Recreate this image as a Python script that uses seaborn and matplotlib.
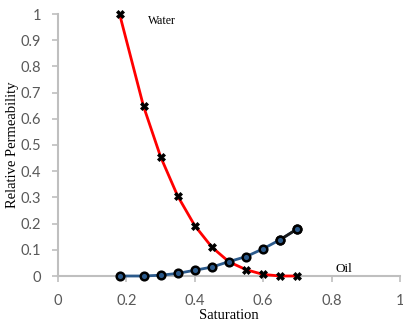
import matplotlib
matplotlib.use("Agg")
import matplotlib.pyplot as plt
import seaborn as sns
import pandas as pd

saturation = [0.18, 0.25, 0.30, 0.35, 0.40, 0.45, 0.50, 0.55, 0.60, 0.65, 0.70]
water_kr = [1.0, 0.648, 0.455, 0.305, 0.192, 0.11, 0.054, 0.024, 0.006, 0.0, 0.0]
oil_kr = [0.0, 0.0, 0.003, 0.01, 0.022, 0.034, 0.055, 0.074, 0.104, 0.139, 0.18]
x_ticks = [0, 0.2, 0.4, 0.6, 0.8, 1]
y_ticks = [0, 0.1, 0.2, 0.3, 0.4, 0.5, 0.6, 0.7, 0.8, 0.9, 1]

df = pd.DataFrame({"Saturation": saturation, "Water": water_kr, "Oil": oil_kr})

sns.set_style("white")
plt.rcParams["font.family"] = ["Lato", "DejaVu Sans"]

fig = plt.figure(figsize=(4.03, 3.24), dpi=100)
ax = fig.add_axes([58 / 403, (324 - 276) / 324, (400 - 58) / 403, (276 - 14) / 324])

sns.lineplot(data=df, x="Saturation", y="Water", ax=ax, color="#ff0000", lw=2,
             marker="X", markersize=5.5, markerfacecolor="black", markeredgecolor="black",
             markeredgewidth=0.5, zorder=3, clip_on=False)
sns.lineplot(data=df, x="Saturation", y="Oil", ax=ax, color="#2b5a8c", lw=2,
             marker="o", markersize=5.5, markerfacecolor="#2b5a8c", markeredgecolor="black",
             markeredgewidth=1.8, zorder=3, clip_on=False)
tail = df.iloc[-2:]
sns.lineplot(data=tail, x="Saturation", y="Oil", ax=ax, color="#1a1a1a", lw=2,
             marker="o", markersize=5.5, markerfacecolor="#2b5a8c", markeredgecolor="black",
             markeredgewidth=1.8, zorder=4, clip_on=False)

ax.set_xlim(0, 1)
ax.set_ylim(0, 1)
ax.set_xticks(x_ticks)
ax.set_xticklabels([f"{t:g}" for t in x_ticks])
ax.set_yticks(y_ticks)
ax.set_yticklabels([f"{t:g}" for t in y_ticks])

for side in ["top", "right"]:
    ax.spines[side].set_visible(False)
for side in ["left", "bottom"]:
    ax.spines[side].set_color("#bfbfbf")
    ax.spines[side].set_linewidth(1.5)
ax.tick_params(axis="both", colors="#bfbfbf", labelcolor="#595959", labelsize=10.5,
               length=4, width=1.2, direction="out", bottom=True, left=True)
ax.tick_params(axis="x", pad=9)
ax.tick_params(axis="y", pad=8)

ax.set_xlabel("Saturation", family="Liberation Serif", fontsize=10.5, color="black", labelpad=1)
ax.set_ylabel("Relative Permeability", family="Liberation Serif", fontsize=10.5, color="black", labelpad=1)

ax.text(0.262, 0.975, "Water", family="Liberation Serif", fontsize=8.5, color="black",
        ha="left", va="center", transform=ax.transAxes)
ax.text(0.81, 0.005, "Oil", family="Liberation Serif", fontsize=9.5, color="black",
        ha="left", va="bottom", transform=ax.transAxes)

fig.savefig("out.png", dpi=100)
